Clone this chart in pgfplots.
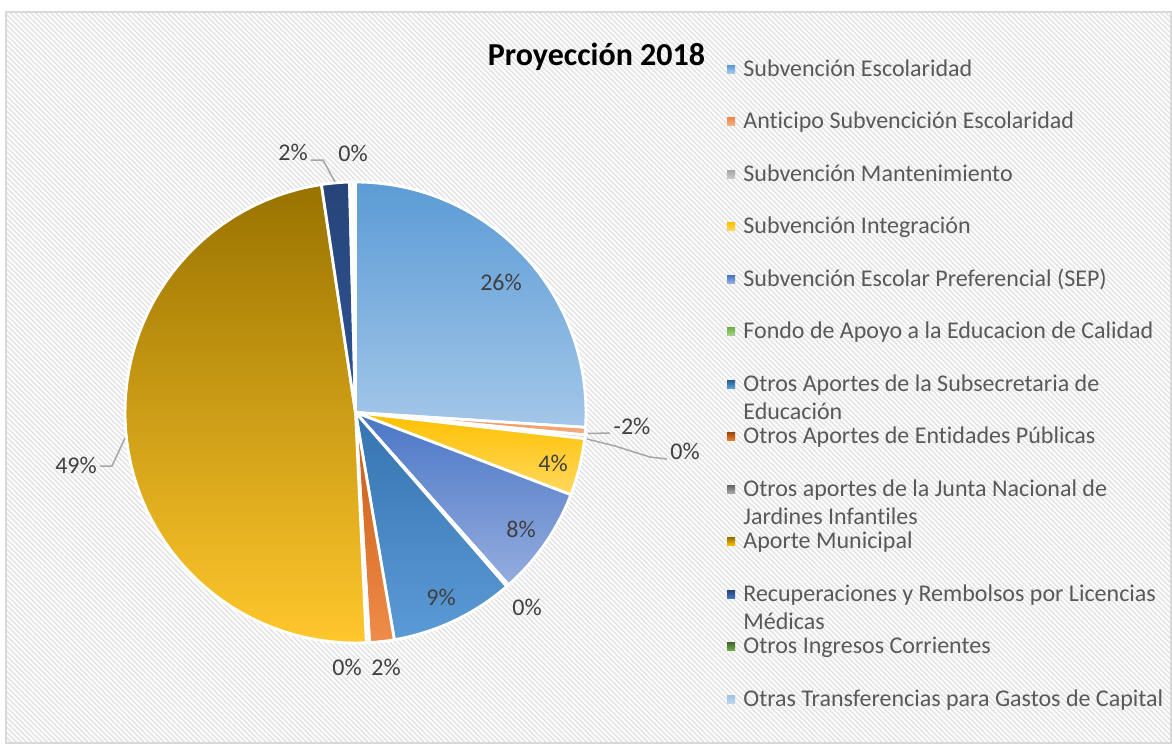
\documentclass[border=0pt]{standalone}
\usepackage{fontspec}
\setmainfont{Carlito}[Ligatures=NoCommon]
\usepackage{pgfplots}
\pgfplotsset{compat=1.18}
\usetikzlibrary{patterns.meta}

\definecolor{bordergray}{HTML}{D9D9D9}
\definecolor{hatch}{HTML}{E4E4E4}
\definecolor{leader}{HTML}{A6A6A6}
\definecolor{lbl}{HTML}{404040}
\definecolor{leg}{HTML}{595959}

\definecolor{aA}{HTML}{5B9BD5}\definecolor{aB}{HTML}{A3C7E9}
\definecolor{bA}{HTML}{EE8A4C}\definecolor{bB}{HTML}{F4B183}
\definecolor{cA}{HTML}{A5A5A5}\definecolor{cB}{HTML}{C9C9C9}
\definecolor{dA}{HTML}{FFC000}\definecolor{dB}{HTML}{FFD95E}
\definecolor{eA}{HTML}{4A76C6}\definecolor{eB}{HTML}{95ADDE}
\definecolor{fA}{HTML}{70AD47}\definecolor{fB}{HTML}{A9D18E}
\definecolor{gA}{HTML}{3673B0}\definecolor{gB}{HTML}{5B9BD5}
\definecolor{hA}{HTML}{C55A11}\definecolor{hB}{HTML}{F08C4A}
\definecolor{iA}{HTML}{636363}\definecolor{iB}{HTML}{A5A5A5}
\definecolor{jA}{HTML}{997300}\definecolor{jB}{HTML}{FFC72C}
\definecolor{kA}{HTML}{264478}\definecolor{kB}{HTML}{2F5597}
\definecolor{lA}{HTML}{43682B}\definecolor{lB}{HTML}{70AD47}
\definecolor{mA}{HTML}{9DC3E6}\definecolor{mB}{HTML}{BDD7EE}

% legend squares colours
\definecolor{LgA}{HTML}{255E91}
\definecolor{LhA}{HTML}{9E480E}\definecolor{LhB}{HTML}{ED7D31}
\definecolor{LjB}{HTML}{FFC000}
\definecolor{LkB}{HTML}{4472C4}

% start angle, end angle (degrees clockwise from 12 o'clock), top colour, bottom colour
\newcommand{\pieslice}[4]{%
  \addplot[mark=none, draw=white, line width=1.4pt, line join=round,
    top color=#3, bottom color=#4, domain=#1:#2, samples=60, variable=\t]
    ({355.5+230.5*sin(\t)},{412.5-230.5*cos(\t)}) -- (axis cs:355.5,412.5) -- cycle;}

\newcommand{\legsq}[3]{% y-centre, top, bottom
  \shade[top color=#2, bottom color=#3] (axis cs:727,#1-4) rectangle (axis cs:735,#1+4);}
\newcommand{\legtxt}[2]{%
  \node[anchor=base west, inner sep=0pt, text=leg, font=\fontsize{12}{14}\selectfont] at (axis cs:743,#1) {#2};}
\newcommand{\dlabel}[3]{%
  \node[anchor=base, inner sep=0pt, text=lbl, font=\fontsize{12}{14}\selectfont] at (axis cs:#1,#2) {#3};}

\begin{document}
\begin{tikzpicture}
\begin{axis}[scale only axis, width=586pt, height=373pt,
  xmin=0, xmax=1172, ymin=0, ymax=746, y dir=reverse,
  hide axis, clip=false]

% background
\fill[white] (axis cs:0,0) rectangle (axis cs:1172,746);
\fill[pattern={Lines[angle=-45,distance=1.8pt,line width=0.8pt]}, pattern color=hatch]
  (axis cs:6,12) rectangle (axis cs:1171,743);
\draw[bordergray, line width=0.75pt] (axis cs:6,12) rectangle (axis cs:1171,743);

% pie slices
\pieslice{0}{93.7}{aA}{aB}
\pieslice{93.7}{95.6}{bA}{bB}
\pieslice{95.6}{96.5}{cA}{cB}
\pieslice{96.5}{110.9}{dA}{dB}
\pieslice{110.9}{138.4}{eA}{eB}
\pieslice{138.4}{139.0}{fA}{fB}
\pieslice{139.0}{170.3}{gA}{gB}
\pieslice{170.3}{176.5}{hA}{hB}
\pieslice{176.5}{177.3}{iA}{iB}
\pieslice{177.3}{351.5}{jA}{jB}
\pieslice{351.5}{358.5}{kA}{kB}
\pieslice{358.5}{359.3}{lA}{lB}
\pieslice{359.3}{360}{mA}{mB}

% leader lines
\draw[leader, line width=0.75pt] (axis cs:311,160) -- (axis cs:323,160) -- (axis cs:335,182);
\draw[leader, line width=0.75pt] (axis cs:588,433.5) -- (axis cs:610,433);
\draw[leader, line width=0.75pt] (axis cs:587,439) -- (axis cs:615,446) -- (axis cs:650,457) -- (axis cs:667,459);
\draw[leader, line width=0.75pt] (axis cs:100,466) -- (axis cs:112,466) -- (axis cs:125,438);

% data labels
\dlabel{501}{290}{26\%}
\dlabel{632}{434}{-2\%}
\dlabel{685}{459}{0\%}
\dlabel{553}{471}{4\%}
\dlabel{521}{537}{8\%}
\dlabel{441}{605}{9\%}
\dlabel{527}{615}{0\%}
\dlabel{347}{675}{0\%}
\dlabel{386}{675}{2\%}
\dlabel{76}{473}{49\%}
\dlabel{293}{160}{2\%}
\dlabel{353}{161}{0\%}

% title
\node[anchor=base, inner sep=0pt, font=\fontsize{16}{19}\selectfont\bfseries] at (axis cs:596.5,65) {Proyección 2018};

% legend
\legsq{69}{aA}{aB}      \legtxt{76}{Subvención Escolaridad}
\legsq{121.5}{bA}{bB}   \legtxt{128.5}{Anticipo Subvencición Escolaridad}
\legsq{174}{cA}{cB}     \legtxt{181}{Subvención Mantenimiento}
\legsq{226.5}{dA}{dB}   \legtxt{233.5}{Subvención Integración}
\legsq{279}{LkB}{eB}    \legtxt{286}{Subvención Escolar Preferencial (SEP)}
\legsq{331.5}{fA}{fB}   \legtxt{338.5}{Fondo de Apoyo a la Educacion de Calidad}
\legsq{384}{LgA}{gB}    \legtxt{391}{Otros Aportes de la Subsecretaria de}
                        \legtxt{419.5}{Educación}
\legsq{436.5}{LhA}{LhB} \legtxt{443.5}{Otros Aportes de Entidades Públicas}
\legsq{489}{iA}{iB}     \legtxt{496}{Otros aportes de la Junta Nacional de}
                        \legtxt{524.5}{Jardines Infantiles}
\legsq{541.5}{jA}{LjB}  \legtxt{548.5}{Aporte Municipal}
\legsq{594}{kA}{LkB}    \legtxt{601}{Recuperaciones y Rembolsos por Licencias}
                        \legtxt{629.5}{Médicas}
\legsq{646.5}{lA}{lB}   \legtxt{653.5}{Otros Ingresos Corrientes}
\legsq{699}{mA}{mB}     \legtxt{706}{Otras Transferencias para Gastos de Capital}

\end{axis}
\end{tikzpicture}
\end{document}
